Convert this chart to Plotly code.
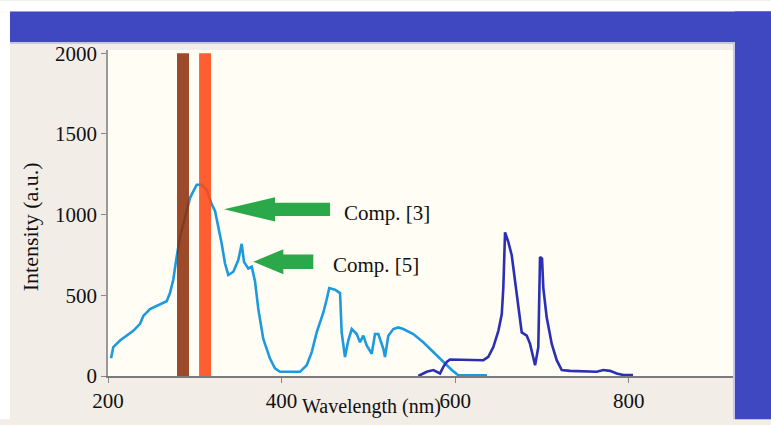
import plotly.graph_objects as go

# Emission spectrum 1 (light blue): wavelength (nm) and intensity (a.u.)
spec1_wl = [203.5, 206.1, 213.8, 229.1, 236.9, 240.7, 248.4, 259.9, 267.6, 271.4,
            275.2, 279.1, 282.9, 288.7, 294.5, 302.2, 308.0, 313.7, 319.5, 323.3,
            327.1, 331.0, 334.8, 338.6, 344.4, 350.1, 354.0, 356.7, 361.6, 365.6,
            369.4, 373.2, 378.9, 386.6, 392.4, 398.2, 402.0, 421.2, 428.9, 434.7,
            440.4, 448.0, 451.9, 454.9, 461.5, 467.3, 469.2, 473.0, 476.8, 480.8,
            486.5, 490.3, 494.1, 498.0, 503.8, 507.6, 511.4, 517.2, 519.1, 522.9,
            528.7, 534.4, 540.2, 551.7, 563.2, 574.8, 586.3, 596.0, 603.6, 636.6]
spec1_int = [110, 179, 220, 280, 323, 372, 415, 445, 463, 514,
             596, 738, 860, 982, 1104, 1185, 1185, 1154, 1063, 1023,
             931, 819, 697, 626, 646, 718, 819, 707, 666, 677,
             585, 413, 230, 108, 47, 26, 26, 26, 67, 148,
             270, 392, 474, 545, 535, 514, 270, 118, 220, 291,
             260, 209, 250, 189, 138, 260, 260, 169, 118, 250,
             291, 301, 291, 260, 209, 148, 87, 37, 4, 4]

# Emission spectrum 2 (dark blue)
spec2_wl = [557.5, 567.2, 574.8, 582.5, 586.3, 590.2, 594.0, 620.9, 632.4, 638.1,
            643.9, 649.7, 653.6, 655.4, 656.6, 657.4, 659.3, 661.2, 665.1, 668.9,
            672.7, 676.6, 682.4, 686.2, 692.0, 695.7, 697.7, 700.0, 701.5, 705.4,
            711.2, 716.9, 722.7, 732.3, 763.0, 770.6, 778.3, 786.1, 793.7, 804.8]
spec2_int = [0, 26, 37, 16, 57, 87, 102, 98, 98, 118,
             179, 280, 382, 545, 748, 890, 860, 829, 748, 585,
             423, 270, 250, 199, 67, 179, 738, 727, 545, 362,
             199, 98, 37, 32, 26, 37, 32, 16, 6, 6]

# Excitation bands
band_center = [286.4, 311.8]
band_width = [13.8, 13.8]
band_height = [2000, 2000]
band_colors = ["#8f2f0c", "#ff4712"]

# Labelled components: arrow tip position and label
comp_labels = ["Comp. [3]", "Comp. [5]"]
comp_tip_wl = [333.6, 367.4]
comp_tip_int = [1033, 708]

x_ticks = [200, 400, 600, 800]
y_ticks = [0, 500, 1000, 1500, 2000]

W, H = 771, 425
L, R, T, B = 108, 733, 50, 381   # plot area in pixels


def px(x):
    return (x - L) / (R - L)


def py(y):
    return (B - y) / (B - T)


fig = go.Figure()

fig.add_trace(go.Scatter(x=spec1_wl, y=spec1_int, mode="lines",
                         line=dict(color="#1d9ade", width=2.6), hoverinfo="skip"))
fig.add_trace(go.Scatter(x=spec2_wl, y=spec2_int, mode="lines",
                         line=dict(color="#2a2fb3", width=2.6), hoverinfo="skip"))

# excitation bands as translucent columns over the spectra
for c, w, h, col in zip(band_center, band_width, band_height, band_colors):
    x0, x1 = c - w / 2, c + w / 2
    fig.add_trace(go.Scatter(x=[x0, x0, x1, x1, x0], y=[0, h, h, 0, 0],
                             mode="lines", fill="toself", fillcolor=col,
                             line=dict(width=0), opacity=0.87, hoverinfo="skip"))

shapes = []
# page frame: white margin, blue banner and blue right strip
shapes.append(dict(type="rect", xref="paper", yref="paper", x0=px(0), x1=px(W),
                   y0=py(0), y1=py(11), fillcolor="white", line_width=0, layer="below"))
shapes.append(dict(type="rect", xref="paper", yref="paper", x0=px(0), x1=px(10),
                   y0=py(11), y1=py(H), fillcolor="white", line_width=0, layer="below"))
shapes.append(dict(type="rect", xref="paper", yref="paper", x0=px(10), x1=px(W),
                   y0=py(11), y1=py(42), fillcolor="#3f47c1", line_width=0, layer="below"))
shapes.append(dict(type="rect", xref="paper", yref="paper", x0=px(10), x1=px(W),
                   y0=py(42), y1=py(44), fillcolor="#c6c6ea", line_width=0, layer="below"))
shapes.append(dict(type="rect", xref="paper", yref="paper", x0=px(733), x1=px(735),
                   y0=py(42), y1=py(H), fillcolor="#c6c6ea", line_width=0, layer="below"))
shapes.append(dict(type="rect", xref="paper", yref="paper", x0=px(735), x1=px(W),
                   y0=py(11), y1=py(H), fillcolor="#3f47c1", line_width=0, layer="below"))

# block arrows pointing at the labelled components
head_len = [58.8, 34.6]
shaft_len = [63.4, 34.5]
head_half = [75, 78]
shaft_half = [41, 45]
for tx, ty, hl, sl, hh, sh in zip(comp_tip_wl, comp_tip_int, head_len, shaft_len,
                                  head_half, shaft_half):
    bx, ex = tx + hl, tx + hl + sl
    path = (f"M {tx},{ty} L {bx},{ty + hh} L {bx},{ty + sh} L {ex},{ty + sh} "
            f"L {ex},{ty - sh} L {bx},{ty - sh} L {bx},{ty - hh} Z")
    shapes.append(dict(type="path", xref="x", yref="y", path=path,
                       fillcolor="#2ba84a", line_width=0))

serif = "Liberation Serif, Times New Roman, serif"
annotations = []
label_x = [469.6, 456.9]
label_y = [1007, 689]
for txt, lx, ly in zip(comp_labels, label_x, label_y):
    annotations.append(dict(x=lx, y=ly, xref="x", yref="y", text=txt, showarrow=False,
                            xanchor="left", yanchor="middle",
                            font=dict(family=serif, size=21, color="#111111")))
annotations.append(dict(x=px(371), y=py(425), xref="paper", yref="paper",
                        text="Wavelength (nm)", showarrow=False,
                        xanchor="center", yanchor="bottom", borderpad=0,
                        font=dict(family=serif, size=20, color="#111111")))
annotations.append(dict(x=px(30), y=py(230), xref="paper", yref="paper",
                        text="Intensity (a.u.)", showarrow=False, textangle=-90,
                        xanchor="center", yanchor="middle",
                        font=dict(family=serif, size=22, color="#111111")))

fig.update_layout(
    width=W, height=H,
    margin=dict(l=L, r=W - R, t=T, b=H - B, pad=0),
    paper_bgcolor="#f2ede7",
    plot_bgcolor="#fffdf4",
    showlegend=False,
    shapes=shapes,
    annotations=annotations,
    xaxis=dict(range=[200, 920], tickvals=x_ticks, ticks="outside", ticklen=5,
               tickcolor="#888888", showline=True, linecolor="#7a7a7a", linewidth=2,
               showgrid=False, zeroline=False,
               tickfont=dict(family=serif, size=21, color="#111111")),
    yaxis=dict(range=[0, 2020], tickvals=y_ticks, ticks="outside", ticklen=5,
               tickcolor="#888888", showline=True, linecolor="#999999", linewidth=1.5,
               showgrid=False, zeroline=False,
               tickfont=dict(family=serif, size=21, color="#111111")),
)

fig.write_html("out.html")
